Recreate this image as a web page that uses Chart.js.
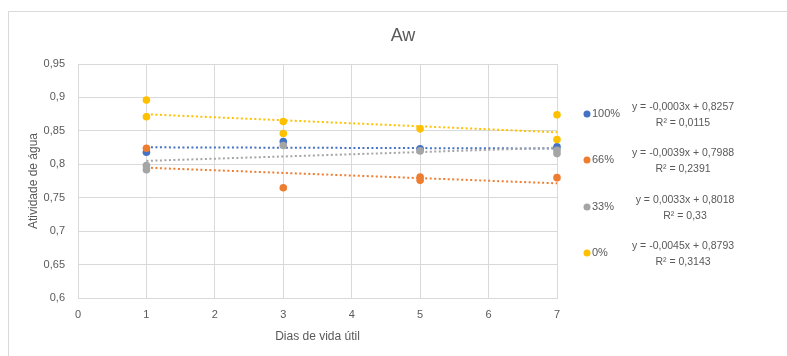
<!DOCTYPE html>
<html>
<head>
<meta charset="utf-8">
<script src="https://cdn.jsdelivr.net/npm/chart.js@4/dist/chart.umd.min.js"></script>
<style>
  html, body { margin: 0; padding: 0; background: #fff; }
  #wrap { width: 787px; height: 356px; position: relative; }
</style>
</head>
<body>
<div id="wrap"><canvas id="c"></canvas></div>
<script>
// Series (label, colour)
const seriesNames  = ['100%', '66%', '33%', '0%'];
const seriesColors = ['#4472C4', '#ED7D31', '#A5A5A5', '#FFC000'];

// Measured water activity per day of shelf life
const days100 = [1, 3, 5, 7];
const aw100   = [0.818, 0.834, 0.823, 0.826];

const days66  = [1, 3, 5, 5, 7];
const aw66    = [0.824, 0.765, 0.781, 0.776, 0.780];

const days33  = [1, 1, 3, 5, 7, 7];
const aw33    = [0.798, 0.792, 0.828, 0.820, 0.821, 0.816];

const days0   = [1, 1, 3, 3, 5, 7, 7];
const aw0     = [0.896, 0.871, 0.864, 0.846, 0.853, 0.874, 0.837];

// Linear trend lines (y = a·x + b) and R²
const trendSlope     = [-0.0003, -0.0039, 0.0033, -0.0045];
const trendIntercept = [0.8257, 0.7988, 0.8018, 0.8793];
const trendR2        = [0.0115, 0.2391, 0.33, 0.3143];
const trendRange     = [1, 7];

// Axis ticks
const xTicks      = [0, 1, 2, 3, 4, 5, 6, 7];
const xTickLabels = ['0', '1', '2', '3', '4', '5', '6', '7'];
const yTicks      = [0.6, 0.65, 0.7, 0.75, 0.8, 0.85, 0.9, 0.95];
const yTickLabels = ['0,6', '0,65', '0,7', '0,75', '0,8', '0,85', '0,9', '0,95'];

const TEXT = '#595959';
const GRID = '#d9d9d9';
const FONT = "'Liberation Sans', Arial, sans-serif";

const pointSets = [[days100, aw100], [days66, aw66], [days33, aw33], [days0, aw0]];

const datasets = [];
pointSets.forEach(([xs, ys], i) => {
  datasets.push({
    type: 'scatter',
    label: seriesNames[i],
    data: xs.map((x, k) => ({ x: x, y: ys[k] })),
    backgroundColor: seriesColors[i],
    borderColor: seriesColors[i],
    borderWidth: 0,
    pointRadius: 3.8,
    pointHoverRadius: 3.8,
    clip: false,
    order: 4 - i
  });
});
seriesNames.forEach((name, i) => {
  datasets.push({
    type: 'line',
    label: name + ' trend',
    data: trendRange.map(x => ({ x: x, y: trendSlope[i] * x + trendIntercept[i] })),
    borderColor: seriesColors[i],
    borderWidth: 2,
    borderDash: [2, 2.5],
    pointRadius: 0,
    fill: false,
    clip: false,
    order: 20 - i
  });
});

function fmt(v, digits) {
  return v.toFixed(digits).replace('.', ',');
}
function equationText(i) {
  const a = trendSlope[i], b = trendIntercept[i];
  return 'y = ' + (a < 0 ? '-' : '') + fmt(Math.abs(a), 4) + 'x + ' + fmt(b, 4);
}
function r2Text(i) {
  return 'R\u00B2 = ' + String(trendR2[i]).replace('.', ',');
}

const frameAndText = {
  id: 'frameAndText',
  beforeDraw(chart) {
    const ctx = chart.ctx;
    ctx.save();
    ctx.fillStyle = '#fff';
    ctx.fillRect(0, 0, chart.width, chart.height);
    ctx.strokeStyle = GRID;
    ctx.lineWidth = 1;
    ctx.strokeRect(8.5, 11.5, chart.width + 10, chart.height + 10);
    ctx.restore();
  },
  afterDraw(chart) {
    const ctx = chart.ctx;
    ctx.save();
    // Title
    ctx.fillStyle = TEXT;
    ctx.font = '18px ' + FONT;
    ctx.textAlign = 'center';
    ctx.textBaseline = 'middle';
    ctx.fillText('Aw', 403, 36);

    // Legend with trend equations
    const rowY = [114, 160, 207, 253];
    seriesNames.forEach((name, i) => {
      const y = rowY[i];
      ctx.fillStyle = seriesColors[i];
      ctx.beginPath();
      ctx.arc(587, y, 3.5, 0, Math.PI * 2);
      ctx.fill();
      ctx.fillStyle = TEXT;
      ctx.font = '11px ' + FONT;
      ctx.textAlign = 'left';
      ctx.textBaseline = 'middle';
      ctx.fillText(name, 592, y);
      ctx.textAlign = 'center';
      ctx.font = '10.5px ' + FONT;
      const cx = i === 2 ? 685 : 683;
      ctx.fillText(equationText(i), cx, y - 7);
      ctx.fillText(r2Text(i), cx, y + 9);
    });
    ctx.restore();
  }
};

new Chart(document.getElementById('c'), {
  type: 'scatter',
  data: { datasets: datasets },
  plugins: [frameAndText],
  options: {
    responsive: true,
    maintainAspectRatio: false,
    animation: false,
    events: [],
    layout: { padding: { left: 22, top: 64, right: 230, bottom: 0 } },
    plugins: { legend: { display: false }, title: { display: false }, tooltip: { enabled: false } },
    scales: {
      x: {
        type: 'linear',
        min: 0, max: 7,
        afterBuildTicks(s) { s.ticks = xTicks.map(v => ({ value: v })); },
        afterFit(s) { s.height = 58; },
        ticks: {
          color: TEXT, font: { family: FONT, size: 11 }, padding: 10,
          callback: (v) => xTickLabels[xTicks.indexOf(v)]
        },
        grid: { color: GRID, lineWidth: 1, drawTicks: false },
        border: { color: GRID },
        title: {
          display: true, text: 'Dias de vida útil', color: TEXT,
          font: { family: FONT, size: 12 }, padding: { top: 4, bottom: 12 }
        }
      },
      y: {
        type: 'linear',
        min: 0.6, max: 0.95,
        afterBuildTicks(s) { s.ticks = yTicks.map(v => ({ value: v })); },
        afterFit(s) { s.width = 56; },
        ticks: {
          color: TEXT, font: { family: FONT, size: 11 }, padding: 13,
          callback: (v) => yTickLabels[yTicks.findIndex(t => Math.abs(t - v) < 1e-9)]
        },
        grid: { color: GRID, lineWidth: 1, drawTicks: false },
        border: { color: GRID },
        title: {
          display: true, text: 'Atividade de água', color: TEXT,
          font: { family: FONT, size: 12 }, padding: { top: 4, bottom: 4 }
        }
      }
    }
  }
});
</script>
</body>
</html>
